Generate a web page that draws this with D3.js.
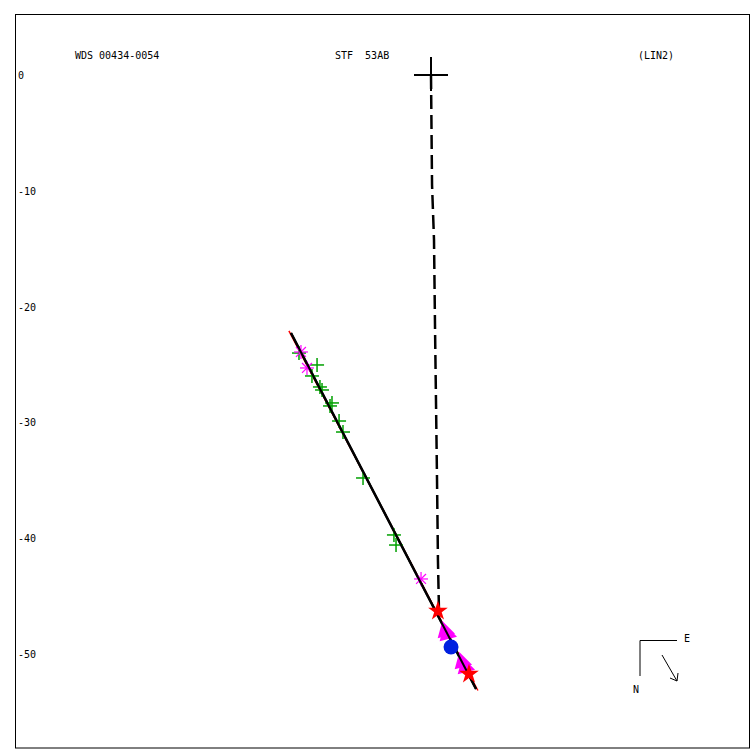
<!DOCTYPE html>
<html>
<head>
<meta charset="utf-8">
<script src="https://cdn.jsdelivr.net/npm/d3@7"></script>
<style>
  body { margin: 0; background: #fff; }
  text { font-family: "DejaVu Sans Mono", monospace; font-size: 10px; fill: #000; }
</style>
</head>
<body>
<svg id="chart" width="750" height="750"></svg>
<script>
// header labels
var titleLeft = "WDS 00434-0054",
    titleMid = "STF  53AB",
    titleRight = "(LIN2)";
var yTicks = [0, -10, -20, -30, -40, -50];

// observations (x, y offsets)
var greenObs = [[-11.40,-24.01],[-9.84,-25.04],[-10.28,-25.99],[-9.59,-26.94],[-9.41,-27.20],
  [-8.55,-28.32],[-8.72,-28.58],[-7.94,-29.88],[-7.60,-30.83],[-5.87,-34.80],[-3.20,-39.72],[-3.02,-40.59]];
var magentaObs = [[-11.23,-23.92],[-10.71,-25.30],[-0.86,-43.52]];
var triangleObs = [[1.21,-48.01],[1.38,-48.27],[2.68,-50.69],[2.94,-51.12]];
var starObs = [[0.60,-46.29],[3.28,-51.73]];
var circleObs = [[1.73,-49.40]];
// fitted line and ephemeris path
var fitLine = [[-12.09,-22.28],[3.89,-53.02]];
var fitLineRed = [[-12.27,-22.10],[4.05,-53.15]];
var ephemeris = [[0,0],[0.09,-9.5],[0.26,-14.25],[0.35,-22.0],[0.43,-28.07],[0.52,-34.97],[0.60,-41.9],[0.69,-46.3]];

var svg = d3.select("#chart");

var x = d3.scaleLinear().domain([-10, 0]).range([315.2, 431]);
var y = d3.scaleLinear().domain([0, -50]).range([75, 654]);

// frame
svg.append("rect")
  .attr("x", 15.5).attr("y", 14.5)
  .attr("width", 734).attr("height", 733.5)
  .attr("fill", "none").attr("stroke", "#000").attr("stroke-width", 1);

// titles
svg.append("text").attr("x", 75).attr("y", 59).text(titleLeft);
svg.append("text").attr("x", 335).attr("y", 59).text(titleMid).style("white-space", "pre");
svg.append("text").attr("x", 638).attr("y", 59).text(titleRight);

// y labels
svg.selectAll(".ylab").data(yTicks).enter().append("text")
  .attr("class", "ylab")
  .attr("x", 18)
  .attr("y", function(d){ return y(d) + 4; })
  .text(function(d){ return d; });

var line = d3.line().x(function(d){ return x(d[0]); }).y(function(d){ return y(d[1]); });

// ephemeris dashed
svg.append("path").datum(ephemeris)
  .attr("d", line)
  .attr("fill", "none").attr("stroke", "#000")
  .attr("stroke-width", 2.5).attr("stroke-dasharray", "14,6");

// fitted lines
svg.append("path").datum(fitLineRed)
  .attr("d", line).attr("fill", "none").attr("stroke", "#f00").attr("stroke-width", 1.5);
svg.append("path").datum(fitLine)
  .attr("d", line).attr("fill", "none").attr("stroke", "#000").attr("stroke-width", 2.5);

// origin cross
var ox = x(0), oy = y(0);
svg.append("line").attr("x1", ox - 17).attr("x2", ox + 17).attr("y1", oy).attr("y2", oy)
  .attr("stroke", "#000").attr("stroke-width", 2);
svg.append("line").attr("x1", ox).attr("x2", ox).attr("y1", oy - 18).attr("y2", oy + 16)
  .attr("stroke", "#000").attr("stroke-width", 2);

// green crosses
var g1 = svg.selectAll(".gobs").data(greenObs).enter().append("g")
  .attr("class", "gobs")
  .attr("transform", function(d){ return "translate(" + x(d[0]) + "," + y(d[1]) + ")"; });
g1.append("line").attr("x1", -7).attr("x2", 7).attr("stroke", "#00a000").attr("stroke-width", 1.5);
g1.append("line").attr("y1", -7).attr("y2", 7).attr("stroke", "#00a000").attr("stroke-width", 1.5);

// magenta asterisks
var g2 = svg.selectAll(".mobs").data(magentaObs).enter().append("g")
  .attr("class", "mobs")
  .attr("transform", function(d){ return "translate(" + x(d[0]) + "," + y(d[1]) + ")"; });
[0, 45, 90, 135].forEach(function(a){
  var r = 7, rad = a * Math.PI / 180;
  g2.append("line")
    .attr("x1", -r * Math.cos(rad)).attr("y1", -r * Math.sin(rad))
    .attr("x2", r * Math.cos(rad)).attr("y2", r * Math.sin(rad))
    .attr("stroke", "#f0f").attr("stroke-width", 1.2);
});

// triangles
svg.selectAll(".tri").data(triangleObs).enter().append("path")
  .attr("class", "tri")
  .attr("d", d3.symbol().type(d3.symbolTriangle).size(140))
  .attr("transform", function(d){ return "translate(" + x(d[0]) + "," + y(d[1]) + ") rotate(-15)"; })
  .attr("fill", "#f0f");

// line again over triangles
svg.append("path").datum(fitLine)
  .attr("d", line).attr("fill", "none").attr("stroke", "#000").attr("stroke-width", 2);

// blue circle
svg.selectAll(".circ").data(circleObs).enter().append("circle")
  .attr("cx", function(d){ return x(d[0]); })
  .attr("cy", function(d){ return y(d[1]); })
  .attr("r", 7.5).attr("fill", "#0020e0");

// red stars
svg.selectAll(".star").data(starObs).enter().append("path")
  .attr("d", d3.symbol().type(d3.symbolStar).size(120))
  .attr("transform", function(d){ return "translate(" + x(d[0]) + "," + y(d[1]) + ")"; })
  .attr("fill", "#f00");

// compass
var comp = svg.append("g").attr("class", "compass");
comp.append("path").attr("d", "M640,676 L640,640.5 L677,640.5")
  .attr("fill", "none").attr("stroke", "#000").attr("stroke-width", 1);
comp.append("text").attr("x", 684).attr("y", 642).text("E");
comp.append("text").attr("x", 633).attr("y", 693).text("N");
comp.append("line").attr("x1", 662).attr("y1", 655).attr("x2", 677).attr("y2", 681)
  .attr("stroke", "#000").attr("stroke-width", 1);
comp.append("path").attr("d", "M670,678 L677,681 L678,673")
  .attr("fill", "none").attr("stroke", "#000").attr("stroke-width", 1);
</script>
</body>
</html>
